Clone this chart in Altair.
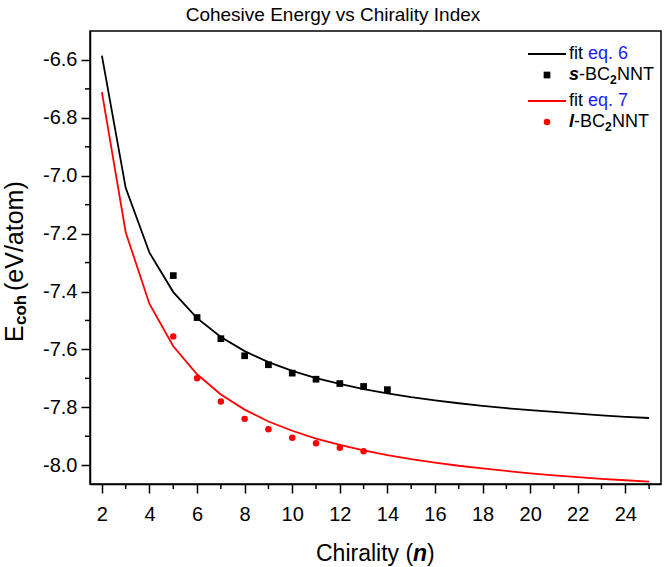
import altair as alt
import pandas as pd

# Fitted cohesive energy (eV/atom) at each chirality index n
fit_n = list(range(2, 26))
fit_eq6 = [-6.585, -7.042, -7.266, -7.402, -7.492, -7.557, -7.606, -7.644,
           -7.674, -7.699, -7.719, -7.737, -7.752, -7.765, -7.776, -7.786,
           -7.795, -7.803, -7.810, -7.816, -7.822, -7.828, -7.833, -7.837]
fit_eq7 = [-6.711, -7.195, -7.443, -7.589, -7.686, -7.756, -7.808, -7.849,
           -7.881, -7.908, -7.930, -7.949, -7.965, -7.979, -7.991, -8.002,
           -8.011, -8.020, -8.028, -8.035, -8.041, -8.047, -8.052, -8.057]

# Computed cohesive energies for the two nanotube families
s_n = [5, 6, 7, 8, 9, 10, 11, 12, 13, 14]
s_ecoh = [-7.345, -7.490, -7.563, -7.622, -7.653, -7.682, -7.703, -7.718, -7.728, -7.739]
l_n = [5, 6, 7, 8, 9, 10, 11, 12, 13]
l_ecoh = [-7.555, -7.700, -7.780, -7.840, -7.876, -7.905, -7.924, -7.940, -7.952]

# Axis ticks
x_major = [2, 4, 6, 8, 10, 12, 14, 16, 18, 20, 22, 24]
x_minor = [3, 5, 7, 9, 11, 13, 15, 17, 19, 21, 23, 25]
y_major = [-8.0, -7.8, -7.6, -7.4, -7.2, -7.0, -6.8, -6.6]
y_minor = [-7.9, -7.7, -7.5, -7.3, -7.1, -6.9, -6.7]

W, H = 571, 453
FONT = "Liberation Sans"
BLUE = "#1c1cf5"
RED = "#ff0000"

xs = alt.Scale(domain=[1.5, 25.5], nice=False, zero=False)
ys = alt.Scale(domain=[-8.065, -6.5], nice=False, zero=False)

axis_common = dict(
    grid=False, domainColor="black", domainWidth=1.5, tickColor="black",
    tickWidth=1.5, tickSize=9, labelFont=FONT, labelFontSize=20,
    labelColor="black", title=None, labelFlush=False,
)
x_axis = alt.Axis(values=x_major, labelPadding=11, format="d", **axis_common)
y_axis = alt.Axis(
    values=y_major, labelPadding=4,
    labelExpr="(datum.value < 0 ? '-' : '') + format(abs(datum.value), '.1f')",
    **axis_common,
)


def X(field):
    return alt.X(field, scale=xs, axis=x_axis)


def Y(field):
    return alt.Y(field, scale=ys, axis=y_axis)


fit6 = alt.Chart(pd.DataFrame({"n": fit_n, "E": fit_eq6})).mark_line(
    color="black", strokeWidth=1.8).encode(x=X("n:Q"), y=Y("E:Q"))
fit7 = alt.Chart(pd.DataFrame({"n": fit_n, "E": fit_eq7})).mark_line(
    color=RED, strokeWidth=1.8).encode(x=X("n:Q"), y=Y("E:Q"))

s_pts = alt.Chart(pd.DataFrame({"n": s_n, "E": s_ecoh})).mark_point(
    shape="square", filled=True, color="black", size=45, opacity=1).encode(
    x=X("n:Q"), y=Y("E:Q"))
l_pts = alt.Chart(pd.DataFrame({"n": l_n, "E": l_ecoh})).mark_point(
    shape="circle", filled=True, color=RED, size=42, opacity=1).encode(
    x=X("n:Q"), y=Y("E:Q"))

# Minor ticks between the labelled ones
x_minor_ticks = alt.Chart(pd.DataFrame({"v": x_minor})).mark_rule(
    color="black", strokeWidth=1.5).encode(
    x=X("v:Q"), y=alt.value(H), y2=alt.value(H + 5))
y_minor_ticks = alt.Chart(pd.DataFrame({"v": y_minor})).mark_rule(
    color="black", strokeWidth=1.5).encode(
    y=Y("v:Q"), x=alt.value(0), x2=alt.value(-5))


def label(text, x, y, size=18, color="black", weight="normal", style="normal",
          angle=0, align="left", baseline="middle"):
    return alt.Chart(pd.DataFrame({"t": [text]})).mark_text(
        font=FONT, fontSize=size, color=color, fontWeight=weight,
        fontStyle=style, angle=angle, align=align, baseline=baseline,
    ).encode(text="t:N", x=alt.value(x), y=alt.value(y))


def swatch_line(y, color):
    return alt.Chart(pd.DataFrame({"t": [0]})).mark_rule(
        color=color, strokeWidth=1.8).encode(
        x=alt.value(438), x2=alt.value(476), y=alt.value(y))


def swatch_point(y, shape, color, size):
    return alt.Chart(pd.DataFrame({"t": [0]})).mark_point(
        shape=shape, filled=True, color=color, size=size, opacity=1).encode(
        x=alt.value(457), y=alt.value(y))


TX = 479
legend = [
    swatch_line(23, "black"),
    label("fit", TX, 23),
    label("eq. 6", TX + 19, 23, color=BLUE),
    swatch_point(44, "square", "black", 45),
    label("s", TX, 44, weight="bold", style="italic"),
    label("-BC", TX + 10, 44),
    label("2", TX + 41, 49, size=12, weight="bold"),
    label("NNT", TX + 48, 44),
    swatch_line(70, RED),
    label("fit", TX, 70),
    label("eq. 7", TX + 19, 70, color=BLUE),
    swatch_point(91, "circle", RED, 42),
    label("l", TX, 91, weight="bold", style="italic"),
    label("-BC", TX + 5, 91),
    label("2", TX + 36, 96, size=12, weight="bold"),
    label("NNT", TX + 43, 91),
]

titles = [
    label("Cohesive Energy vs Chirality Index", 243, -16, size=19, align="center"),
    # x-axis title
    label("Chirality (", 226, 530, size=23, baseline="alphabetic"),
    label("n", 323, 530, size=23, weight="bold", style="italic", baseline="alphabetic"),
    label(")", 337, 530, size=23, baseline="alphabetic"),
    # y-axis title, read bottom to top
    label("E", -67, 311, size=25, angle=270, baseline="alphabetic"),
    label("coh", -64, 294, size=17, weight="bold", angle=270, baseline="alphabetic"),
    label("(eV/atom)", -67, 260, size=25, angle=270, baseline="alphabetic"),
]

chart = alt.layer(
    fit6, fit7, s_pts, l_pts, x_minor_ticks, y_minor_ticks, *legend, *titles
).properties(
    width=W, height=H,
    padding={"left": 90, "top": 31, "right": 3, "bottom": 83},
    autosize=alt.AutoSizeParams(type="none"),
    background="white",
).configure_view(stroke="black", strokeWidth=1.5)

chart.save("out.html", embed_options={"renderer": "svg", "actions": False})
